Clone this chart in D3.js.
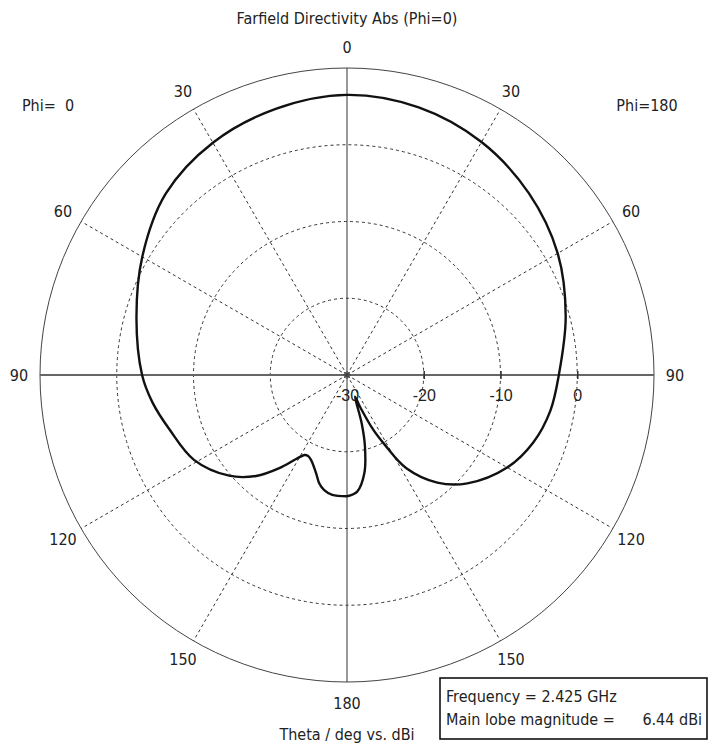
<!DOCTYPE html>
<html>
<head>
<meta charset="utf-8">
<script src="https://cdn.jsdelivr.net/npm/d3@7"></script>
<style>
  body { margin: 0; background: #fff; }
  svg { display: block; font-family: "DejaVu Sans Condensed", "DejaVu Sans", sans-serif; }
  text { fill: #222; white-space: pre; }
</style>
</head>
<body>
<div id="chart"></div>
<script>
// theta labels around the circle, dB rings
const thetaTicks = [0, 30, 60, 90, 120, 150, 180];
const dbTicks = [-30, -20, -10, 0];

// Phi = 0 cut (drawn on the left half)
const phi0Theta = [0, 15, 30, 45, 60, 75, 90, 98, 107, 119, 130.5, 138, 144, 148.8, 152, 154.1, 157, 162.5, 165.7, 168.8, 173, 180];
const phi0Dbi = [6.5, 5.9, 4.95, 3.4, 0.8, -1.6, -3.3, -4.4, -5.8, -7.2, -9.8, -12.3, -15.0, -17.2, -18.2, -18.3, -18.0, -16.6, -15.4, -14.7, -14.25, -14.2];

// Phi = 180 cut (drawn on the right half)
const phi180Theta = [0, 15, 30, 45, 60, 75, 90, 100, 110, 120, 132, 140, 147.5, 151.5, 154.4, 157.7, 159.8, 163.1, 165.9, 170, 175, 180];
const phi180Dbi = [6.5, 6.1, 5.05, 3.5, 1.7, -0.5, -2.4, -3.1, -4.2, -5.9, -8.9, -11.7, -15.6, -19.6, -22.1, -25.5, -27.0, -23.4, -20.4, -17.0, -14.75, -14.2];

const width = 716;
const height = 752;
const cx = 347;
const cy = 375;
const R = 307;
const fontSize = '16px';

const svg = d3.select('#chart').append('svg').attr('width', width).attr('height', height);

const r = d3.scaleLinear().domain([-30, 10]).range([0, R]).clamp(true);
const rad = (deg) => (deg * Math.PI) / 180;

const g = svg.append('g').attr('transform', `translate(${cx},${cy})`);

// dashed dB rings
g.selectAll('circle.ring')
  .data(dbTicks.filter((d) => d > -30))
  .enter()
  .append('circle')
  .attr('class', 'ring')
  .attr('r', (d) => r(d))
  .attr('fill', 'none')
  .attr('stroke', '#333')
  .attr('stroke-width', 1)
  .attr('stroke-dasharray', '3,3');

// dashed spokes on both halves
const spokes = [];
thetaTicks.filter((t) => t % 90 !== 0).forEach((t) => {
  spokes.push(t);
  spokes.push(-t);
});
g.selectAll('line.spoke')
  .data(spokes)
  .enter()
  .append('line')
  .attr('class', 'spoke')
  .attr('x1', 0)
  .attr('y1', 0)
  .attr('x2', (d) => R * Math.sin(rad(d)))
  .attr('y2', (d) => -R * Math.cos(rad(d)))
  .attr('stroke', '#333')
  .attr('stroke-width', 1)
  .attr('stroke-dasharray', '3,3');

// outer circle
g.append('circle')
  .attr('r', r(10))
  .attr('fill', 'none')
  .attr('stroke', '#444')
  .attr('stroke-width', 1);

// main axes
g.append('line')
  .attr('x1', 0).attr('y1', -R).attr('x2', 0).attr('y2', R)
  .attr('stroke', '#333').attr('stroke-width', 1);
g.append('line')
  .attr('x1', -R).attr('y1', 0).attr('x2', R).attr('y2', 0)
  .attr('stroke', '#666').attr('stroke-width', 2);

// dB axis along the right half
const axis = g.append('g').call(
  d3.axisBottom(r).tickValues(dbTicks).tickFormat((d) => String(d)).tickSizeInner(4).tickSizeOuter(0)
);
axis.select('.domain').remove();
axis.selectAll('.tick line')
  .attr('y1', -4)
  .attr('y2', 4)
  .attr('stroke', '#333')
  .attr('stroke-width', 1.5)
  .attr('opacity', (d) => (d > -30 ? 1 : 0));
axis.selectAll('.tick text')
  .attr('y', 20)
  .attr('dy', '0.35em')
  .attr('fill', '#222')
  .style('font-size', fontSize)
  .style('font-family', null);

// center star
[0, 45, 90, 135].forEach((a) => {
  g.append('line')
    .attr('x1', -4 * Math.cos(rad(a))).attr('y1', -4 * Math.sin(rad(a)))
    .attr('x2', 4 * Math.cos(rad(a))).attr('y2', 4 * Math.sin(rad(a)))
    .attr('stroke', '#444').attr('stroke-width', 1.2);
});

// pattern: left half is phi=0 (negative angle), right half is phi=180
const points = [];
for (let i = phi0Theta.length - 1; i >= 0; i--) points.push([-rad(phi0Theta[i]), phi0Dbi[i]]);
for (let i = 1; i < phi180Theta.length; i++) points.push([rad(phi180Theta[i]), phi180Dbi[i]]);

const line = d3.lineRadial()
  .angle((d) => d[0])
  .radius((d) => r(d[1]))
  .curve(d3.curveCatmullRom.alpha(0.5));

g.append('path')
  .datum(points)
  .attr('d', line)
  .attr('fill', 'none')
  .attr('stroke', '#111')
  .attr('stroke-width', 2.4)
  .attr('stroke-linejoin', 'round');

// theta labels
const labelR = 328;
const thetaLabels = [];
thetaTicks.forEach((t) => {
  thetaLabels.push({ t: t, a: t });
  if (t > 0 && t < 180) thetaLabels.push({ t: t, a: -t });
});
g.selectAll('text.theta')
  .data(thetaLabels)
  .enter()
  .append('text')
  .attr('class', 'theta')
  .attr('x', (d) => labelR * Math.sin(rad(d.a)))
  .attr('y', (d) => -labelR * Math.cos(rad(d.a)))
  .attr('dy', '0.35em')
  .attr('text-anchor', 'middle')
  .style('font-size', fontSize)
  .text((d) => d.t);

// titles
svg.append('text').attr('x', cx).attr('y', 18).attr('dy', '0.35em').attr('text-anchor', 'middle')
  .style('font-size', fontSize).text('Farfield Directivity Abs (Phi=0)');
svg.append('text').attr('x', 48).attr('y', 105).attr('dy', '0.35em').attr('text-anchor', 'middle')
  .style('font-size', fontSize).text('Phi=  0');
svg.append('text').attr('x', 647).attr('y', 105).attr('dy', '0.35em').attr('text-anchor', 'middle')
  .style('font-size', fontSize).text('Phi=180');
svg.append('text').attr('x', cx).attr('y', 734).attr('dy', '0.35em').attr('text-anchor', 'middle')
  .style('font-size', fontSize).text('Theta / deg vs. dBi');

// info box
const box = svg.append('g');
box.append('rect')
  .attr('x', 440).attr('y', 678).attr('width', 267).attr('height', 61)
  .attr('fill', '#fff').attr('stroke', '#111').attr('stroke-width', 1.6);
box.append('text').attr('x', 446).attr('y', 696).attr('dy', '0.35em')
  .style('font-size', fontSize).text('Frequency = 2.425 GHz');
box.append('text').attr('x', 446).attr('y', 719).attr('dy', '0.35em')
  .style('font-size', fontSize).text('Main lobe magnitude =');
box.append('text').attr('x', 702).attr('y', 719).attr('dy', '0.35em').attr('text-anchor', 'end')
  .style('font-size', fontSize).text('6.44 dBi');
</script>
</body>
</html>
